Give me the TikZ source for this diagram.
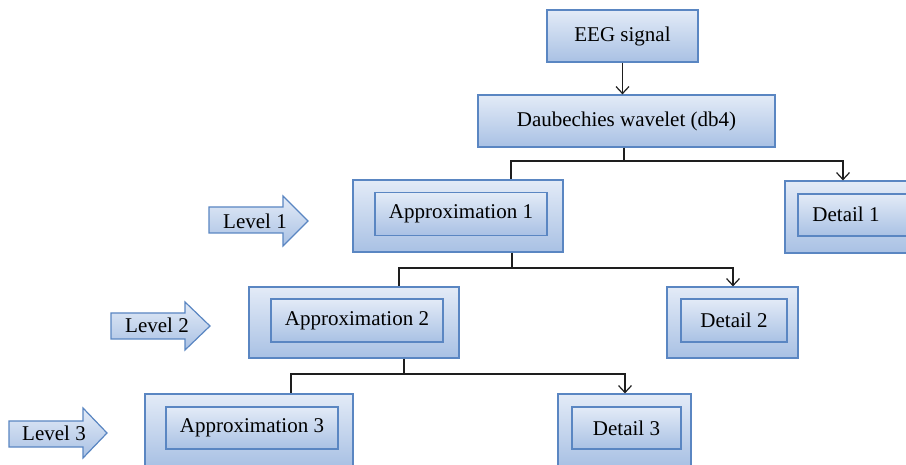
\documentclass[tikz,border=0pt]{standalone}
\usepackage{fontspec}
\setmainfont{Liberation Serif}
\newfontfamily\diagfont{Liberation Serif}
\usetikzlibrary{arrows.meta}
\definecolor{bordc}{HTML}{5A86C2}
\definecolor{topc}{HTML}{E3EBF7}
\definecolor{botc}{HTML}{A9C1E4}
\definecolor{linec}{HTML}{1E1E1E}
\tikzset{
  box/.style={draw=bordc, line width=1.2pt, top color=topc, bottom color=botc, inner sep=0pt, font=\diagfont\fontsize{21}{25}\selectfont},
  conn/.style={draw=linec, line width=1.2pt},
  arr/.style={conn, -{Straight Barb[length=7pt,width=13pt,line width=1.2pt]}},
  lab/.style={font=\diagfont\fontsize{21}{25}\selectfont, inner sep=0pt},
  lvl/.style={draw=bordc, line width=1.2pt, top color=topc, bottom color=botc},
}
\begin{document}
\begin{tikzpicture}[x=1pt,y=-1pt]
\useasboundingbox (0,0) rectangle (906,465);
\clip (0,0) rectangle (906,465);
\fill[white] (0,0) rectangle (906,465);
% top boxes
\node[box, minimum width=151pt, minimum height=52pt] (eeg) at (622.5,36) {EEG signal};
\node[box, minimum width=297pt, minimum height=52pt] (daub) at (626.5,121) {Daubechies wavelet (db4)};
% level 1
\node[box, minimum width=210pt, minimum height=72pt] (a1out) at (458,216) {};
\node[box, minimum width=172pt, minimum height=43pt] (a1) at (461,214) {Approximation 1};
\node[box, minimum width=140pt, minimum height=72pt] (d1out) at (855,217) {};
\node[box, minimum width=114pt, minimum height=42pt] (d1in) at (855,215) {};
\node[lab] (d1) at (846,214) {Detail 1};
% level 2
\node[box, minimum width=210pt, minimum height=71pt] (a2out) at (354,322.5) {};
\node[box, minimum width=172pt, minimum height=43pt] (a2) at (357,320.5) {Approximation 2};
\node[box, minimum width=131pt, minimum height=71pt] (d2out) at (732.5,322.5) {};
\node[box, minimum width=106pt, minimum height=43pt] (d2) at (734,320.5) {Detail 2};
% level 3
\node[box, minimum width=208pt, minimum height=72pt] (a3out) at (249,430) {};
\node[box, minimum width=172pt, minimum height=42pt] (a3) at (252,428) {Approximation 3};
\node[box, minimum width=133pt, minimum height=72pt] (d3out) at (624.5,430) {};
\node[box, minimum width=109pt, minimum height=42pt] (d3) at (626.5,428) {Detail 3};
% level arrows
\path[lvl] (209,207) -- (283,207) -- (283,196) -- (308,221) -- (283,246) -- (283,233) -- (209,233) -- cycle;
\node[lab] (l1) at (255,221) {Level 1};
\path[lvl] (111,313) -- (185,313) -- (185,302) -- (210,326) -- (185,350) -- (185,339) -- (111,339) -- cycle;
\node[lab] (l2) at (157,325) {Level 2};
\path[lvl] (9,421) -- (83,421) -- (83,408) -- (107,433) -- (83,458) -- (83,447) -- (9,447) -- cycle;
\node[lab] (l3) at (54,433) {Level 3};
% connectors
\draw[arr] (eeg.south) -- (eeg.south |- daub.north);
\draw[conn] (624,0 |- daub.south) -- (624,161) -- (511,161) -- (511,0 |- a1out.north);
\draw[arr] (624,161) -- (843,161) -- (843,0 |- d1out.north);
\draw[conn] (512,0 |- a1out.south) -- (512,268) -- (399,268) -- (399,0 |- a2out.north);
\draw[arr] (512,268) -- (733,268) -- (733,0 |- d2out.north);
\draw[conn] (404,0 |- a2out.south) -- (404,374) -- (291,374) -- (291,0 |- a3out.north);
\draw[arr] (404,374) -- (625,374) -- (625,0 |- d3out.north);
\end{tikzpicture}
\end{document}
